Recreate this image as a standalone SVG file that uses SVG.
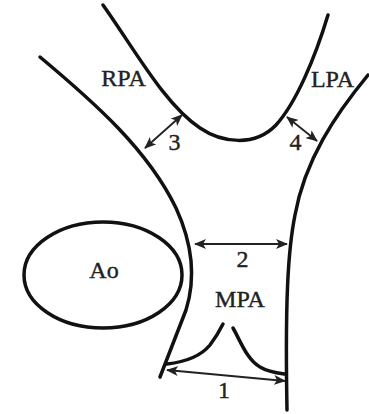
<svg xmlns="http://www.w3.org/2000/svg" width="369" height="414" viewBox="0 0 369 414">
  <defs>
    <style>
      .wall { fill: none; stroke: #111; stroke-width: 3.5; stroke-linecap: round; stroke-linejoin: round; }
      .dim { fill: none; stroke: #222; stroke-width: 1.8; }
      .lbl { font-family: "Liberation Serif", "Times New Roman", serif; font-size: 24px; fill: #222; stroke: #222; stroke-width: 0.4; text-anchor: middle; }
    </style>
    <marker id="head" viewBox="0 0 12 10" refX="11" refY="5" markerWidth="12" markerHeight="10" markerUnits="userSpaceOnUse" orient="auto-start-reverse">
      <path d="M0,0 L12,5 L0,10 L3,5 Z" fill="#222"/>
    </marker>
  </defs>

  <rect width="369" height="414" fill="#fff"/>

  <!-- pulmonary artery walls -->
  <g id="vessel">
    <!-- right pulmonary artery outer wall running into the left MPA wall -->
    <path class="wall" d="M40,57 C95,103 148,150 176,208 C193,245 196,278 186,310 L160,377"/>
    <!-- carina: inner wall between RPA and LPA -->
    <path class="wall" d="M103,5 C135,50 165,105 200,128 C222,143 255,147 276,125 C296,103 315,58 328,15"/>
    <!-- left pulmonary artery outer wall running into the right MPA wall -->
    <path class="wall" d="M368,75 C335,115 305,160 295,215 C288,250 285,300 287,410"/>
    <!-- pulmonary valve leaflets -->
    <path class="wall" d="M167,364 C185,362 200,357 210,345 C216,337 220,330 223,324"/>
    <path class="wall" d="M233,328 C240,340 247,360 260,367 C268,372 277,373 285,374"/>
  </g>

  <!-- aorta -->
  <g id="Ao">
    <ellipse class="wall" cx="103" cy="275" rx="79" ry="53"/>
    <text class="lbl" x="104" y="278">Ao</text>
  </g>

  <g id="RPA"><text class="lbl" x="123.5" y="86">RPA</text></g>
  <g id="LPA"><text class="lbl" x="332.5" y="87">LPA</text></g>
  <g id="MPA"><text class="lbl" x="240" y="307">MPA</text></g>

  <!-- measurement arrows -->
  <g id="connectors">
    <line class="dim" x1="167" y1="370" x2="285" y2="381" marker-start="url(#head)" marker-end="url(#head)"/>
    <line class="dim" x1="195" y1="244" x2="287" y2="244" marker-start="url(#head)" marker-end="url(#head)"/>
    <line class="dim" x1="145" y1="148" x2="182" y2="115" marker-start="url(#head)" marker-end="url(#head)"/>
    <line class="dim" x1="287" y1="117" x2="317" y2="141" marker-start="url(#head)" marker-end="url(#head)"/>
  </g>

  <g id="dimension-labels">
    <text class="lbl" x="224" y="398">1</text>
    <text class="lbl" x="242.5" y="267">2</text>
    <text class="lbl" x="174.5" y="150">3</text>
    <text class="lbl" x="295.5" y="150">4</text>
  </g>
</svg>
